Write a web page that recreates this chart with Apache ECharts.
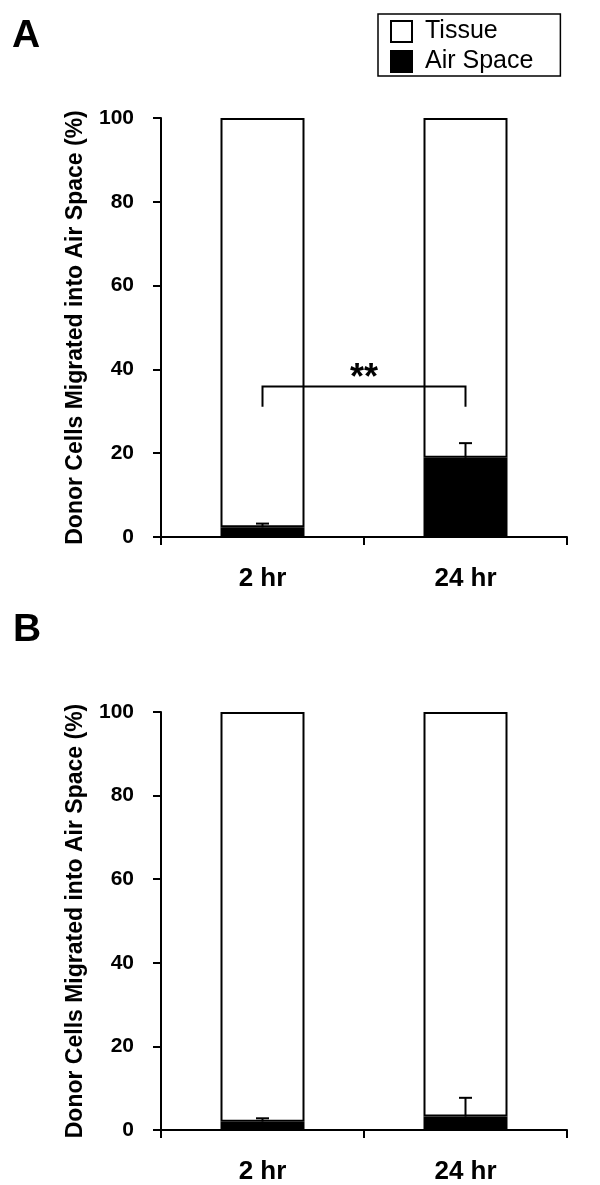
<!DOCTYPE html>
<html>
<head>
<meta charset="utf-8">
<script src="https://cdn.jsdelivr.net/npm/echarts@6/dist/echarts.min.js"></script>
<style>
  html, body { margin: 0; padding: 0; background: #fff; }
  #chart { width: 600px; height: 1185px; }
</style>
</head>
<body>
<div id="chart"></div>
<script>
// data
var categories = ['2 hr', '24 hr']
var yTicks = [0, 20, 40, 60, 80, 100]

// panel A
var airA = [2.3, 18.9]
var tissueA = [97.7, 81.1]
var errA = [0.9, 3.5]
// panel B
var airB = [2.0, 3.2]
var tissueB = [98.0, 96.8]
var errB = [0.8, 4.5]

// significance bracket in panel A (y of bar, y of leg ends)
var bracketTop = 35.9
var bracketLeg = 31.1

var FONT = 'Arial, "Liberation Sans", sans-serif'
var chart = echarts.init(document.getElementById('chart'))

function yAxisFor (gridIndex) {
  return {
    type: 'value',
    gridIndex: gridIndex,
    min: yTicks[0],
    max: yTicks[yTicks.length - 1],
    interval: 20,
    name: 'Donor Cells Migrated into Air Space (%)',
    nameLocation: 'middle',
    nameGap: 74,
    nameTextStyle: { fontFamily: FONT, fontWeight: 'bold', fontSize: 23, color: '#000' },
    axisLine: { show: true, lineStyle: { color: '#000', width: 2 } },
    axisTick: { show: true, length: 8, lineStyle: { color: '#000', width: 2 } },
    axisLabel: { margin: 27, fontFamily: FONT, fontWeight: 'bold', fontSize: 21, color: '#000' },
    splitLine: { show: false }
  }
}

function xAxisFor (gridIndex) {
  return {
    type: 'category',
    gridIndex: gridIndex,
    data: categories,
    axisLine: { lineStyle: { color: '#000', width: 2 } },
    axisTick: { show: true, length: 8, lineStyle: { color: '#000', width: 2 } },
    axisLabel: { margin: 29, fontFamily: FONT, fontWeight: 'bold', fontSize: 26, color: '#000' }
  }
}

function barsFor (idx, air, tissue) {
  return [
    {
      name: 'Air Space',
      type: 'bar',
      stack: 'p' + idx,
      xAxisIndex: idx,
      yAxisIndex: idx,
      barWidth: 84,
      data: air,
      itemStyle: { color: '#000', borderColor: '#000', borderWidth: 2 }
    },
    {
      name: 'Tissue',
      type: 'bar',
      stack: 'p' + idx,
      xAxisIndex: idx,
      yAxisIndex: idx,
      barWidth: 84,
      data: tissue,
      itemStyle: { color: '#fff', borderColor: '#000', borderWidth: 2 }
    }
  ]
}

function errorSeries (idx, air, err) {
  return {
    type: 'custom',
    xAxisIndex: idx,
    yAxisIndex: idx,
    z: 10,
    data: air.map(function (v, i) { return [i, v, err[i]] }),
    renderItem: function (params, api) {
      var base = api.coord([api.value(0), api.value(1)])
      var top = api.coord([api.value(0), api.value(1) + api.value(2)])
      var half = 6.5
      return {
        type: 'group',
        children: [
          { type: 'line', shape: { x1: base[0], y1: base[1], x2: top[0], y2: top[1] }, style: { stroke: '#000', lineWidth: 2 } },
          { type: 'line', shape: { x1: top[0] - half, y1: top[1], x2: top[0] + half, y2: top[1] }, style: { stroke: '#000', lineWidth: 2 } }
        ]
      }
    }
  }
}

var bracket = {
  type: 'custom',
  xAxisIndex: 0,
  yAxisIndex: 0,
  z: 10,
  data: [[0, bracketTop, bracketLeg]],
  renderItem: function (params, api) {
    var a = api.coord([0, bracketLeg])
    var b = api.coord([0, bracketTop])
    var c = api.coord([1, bracketTop])
    var d = api.coord([1, bracketLeg])
    return {
      type: 'group',
      children: [
        { type: 'polyline', shape: { points: [a, b, c, d] }, style: { stroke: '#000', lineWidth: 2, fill: null } },
        {
          type: 'text',
          style: {
            x: (b[0] + c[0]) / 2,
            y: b[1] + 10,
            text: '**',
            fontFamily: FONT,
            fontWeight: 'bold',
            fontSize: 36,
            fill: '#000',
            align: 'center',
            verticalAlign: 'bottom'
          }
        }
      ]
    }
  }
}

chart.setOption({
  animation: false,
  backgroundColor: '#fff',
  grid: [
    { left: 161, right: 33, top: 118, height: 419 },
    { left: 161, right: 33, top: 712, height: 419 }
  ],
  legend: {
    data: ['Tissue', 'Air Space'],
    orient: 'vertical',
    left: 378,
    top: 14,
    padding: [5, 27, 2, 12],
    itemGap: 5,
    itemWidth: 21,
    itemHeight: 21,
    icon: 'rect',
    borderColor: '#000',
    borderWidth: 1.5,
    textStyle: { fontFamily: FONT, fontSize: 25, color: '#000', padding: [0, 0, 0, 8] }
  },
  xAxis: [xAxisFor(0), xAxisFor(1)],
  yAxis: [yAxisFor(0), yAxisFor(1)],
  graphic: [
    { type: 'text', left: 12, top: 17, style: { text: 'A', fontFamily: FONT, fontWeight: 'bold', fontSize: 39, fill: '#000' } },
    { type: 'text', left: 13, top: 611, style: { text: 'B', fontFamily: FONT, fontWeight: 'bold', fontSize: 39, fill: '#000' } }
  ],
  series: [].concat(
    barsFor(0, airA, tissueA),
    barsFor(1, airB, tissueB),
    [errorSeries(0, airA, errA), errorSeries(1, airB, errB), bracket]
  )
})
</script>
</body>
</html>
